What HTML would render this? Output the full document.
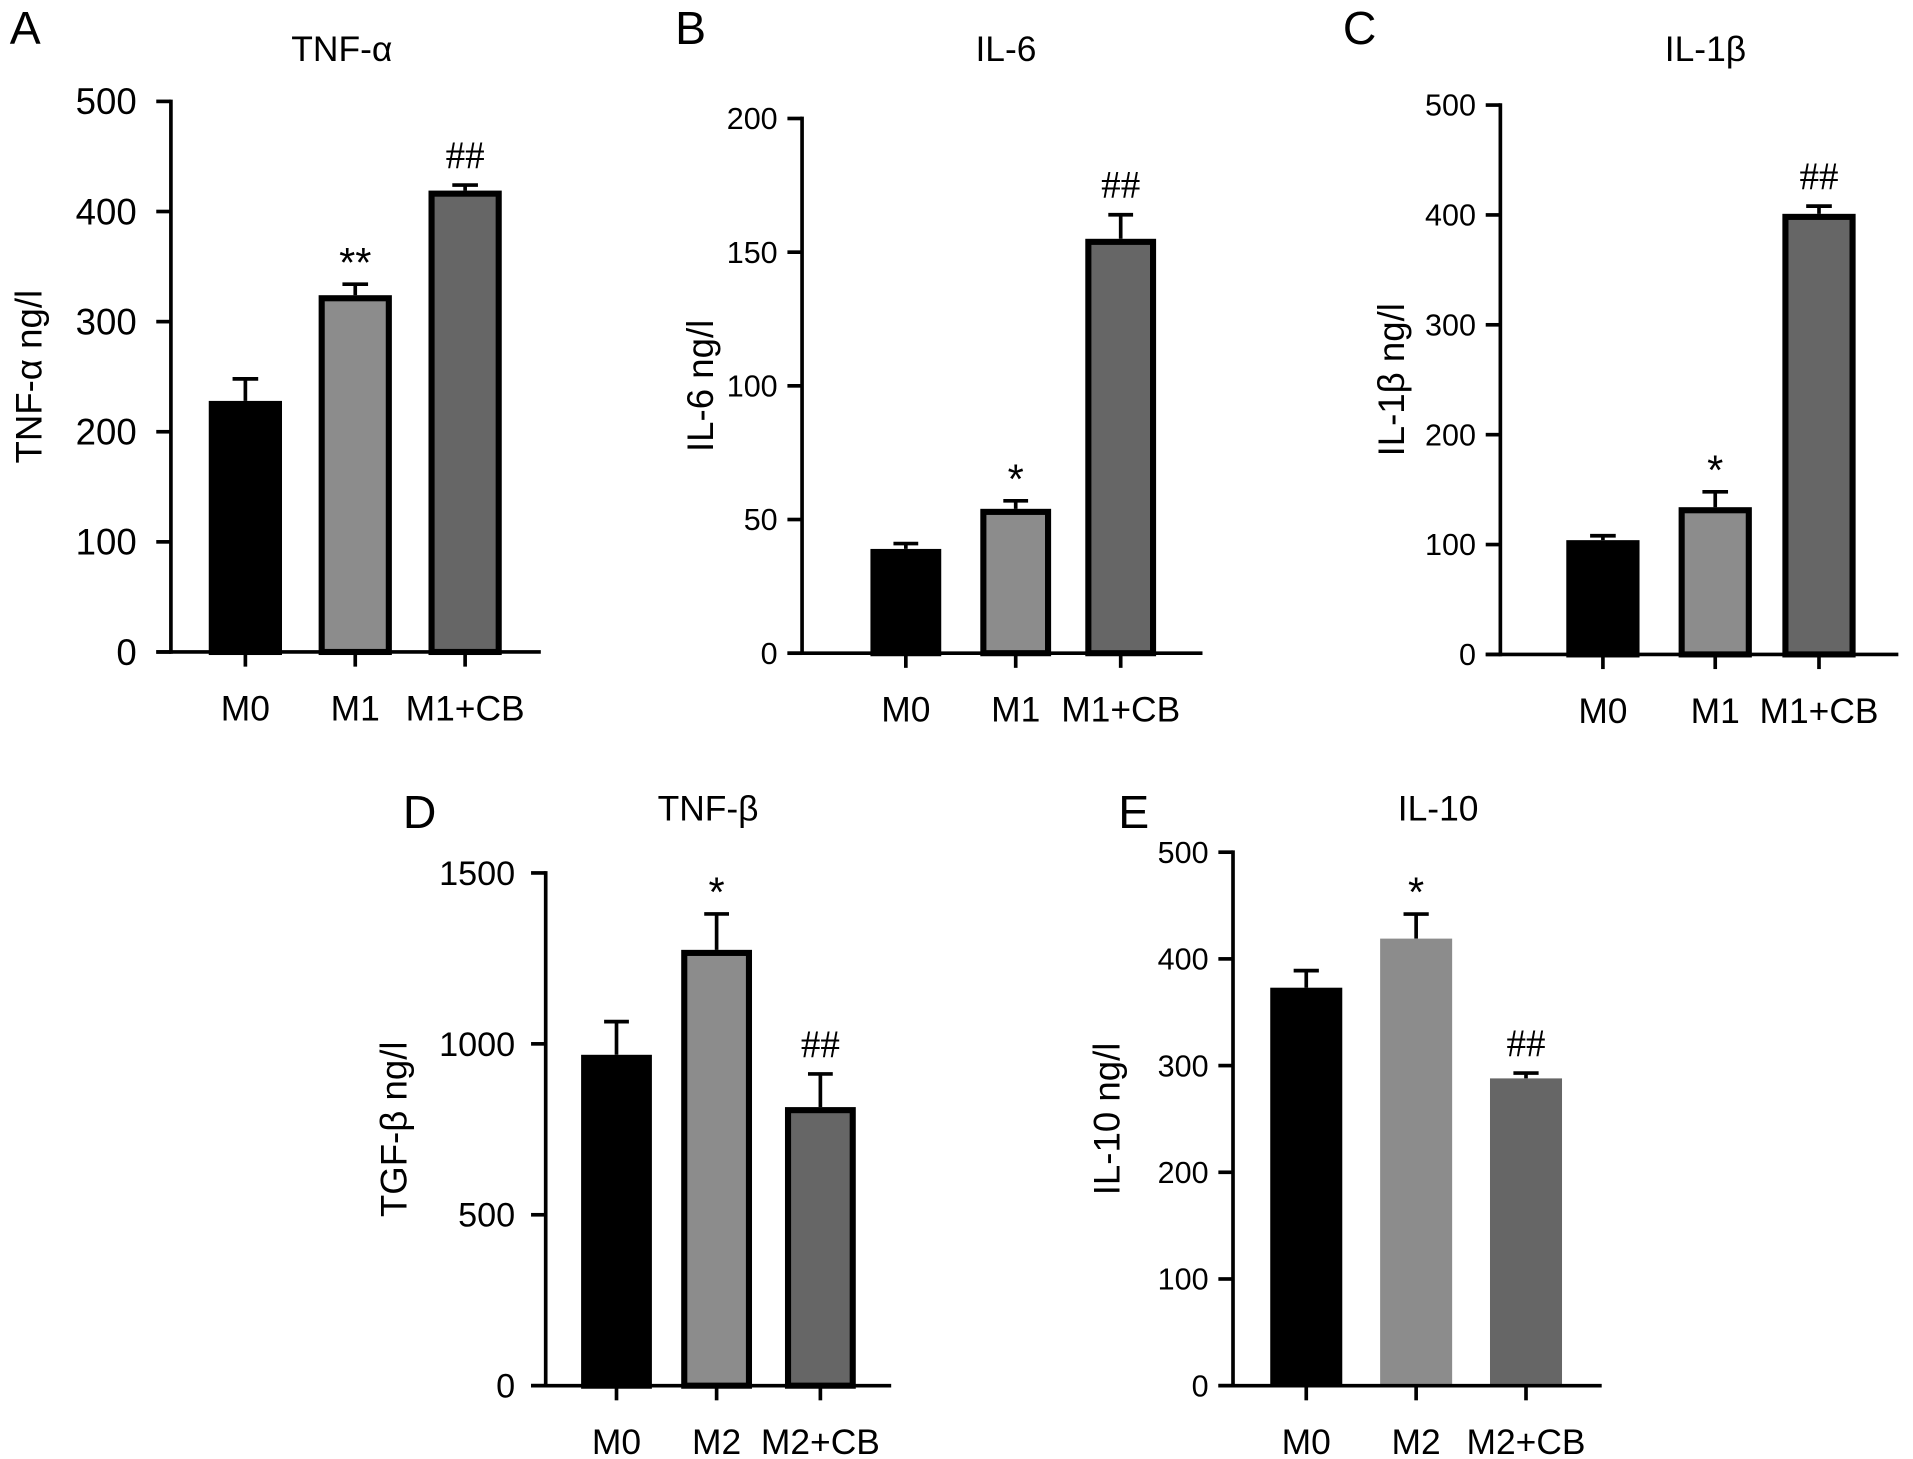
<!DOCTYPE html>
<html><head><meta charset="utf-8"><style>
html,body{margin:0;padding:0;background:#fff;}
svg{display:block;font-family:"Liberation Sans",Arial,sans-serif;}
</style></head><body>
<svg id="fig" width="1913" height="1459" viewBox="0 0 1567 1195" xmlns="http://www.w3.org/2000/svg"></svg>
<script>
const catsA=["M0","M1","M1+CB"], valsA=[228,324,419], errA=[20,10,5], sigA=["","**","##"], ticksA=[0,100,200,300,400,500];
const catsB=["M0","M1","M1+CB"], valsB=[39,54,155], errB=[2,3,9], sigB=["","*","##"], ticksB=[0,50,100,150,200];
const catsC=["M0","M1","M1+CB"], valsC=[104,134,401], errC=[4,14,7], sigC=["","*","##"], ticksC=[0,100,200,300,400,500];
const catsD=["M0","M2","M2+CB"], valsD=[968,1275,815], errD=[97,105,97], sigD=["","*","##"], ticksD=[0,500,1000,1500];
const catsE=["M0","M2","M2+CB"], valsE=[373,419,288], errE=[16,23,5], sigE=["","*","##"], ticksE=[0,100,200,300,400,500];

const NS="http://www.w3.org/2000/svg";
const svg=document.getElementById('fig');
function mk(tag,attrs,parent,text){const e=document.createElementNS(NS,tag);for(const k in attrs)e.setAttribute(k,attrs[k]);if(text!==undefined)e.textContent=text;(parent||svg).appendChild(e);return e;}
const fills=["#000","#8c8c8c","#666"];

function panel(o){
  const g=mk('g',{});
  
  
  const ymax=o.ticks[o.ticks.length-1];
  const y=v=>o.y0-(v/ymax)*(o.y0-o.ytop);
  const L=mk('text',{x:o.letterX,y:o.letterY,'font-size':38},g,o.letter);
  
  
  const T=mk('text',{x:o.titleX,y:o.titleY,'font-size':29,'text-anchor':'middle'},g,o.title);
  
  
  const yl=mk('text',{x:0,y:0,'font-size':30,'text-anchor':'middle',transform:`translate(${o.ylabX},${(o.y0+o.ytop)/2}) rotate(-90)`},g,o.ylab);
  
  
  o.cats.forEach((c,i)=>{
    const cx=o.cx[i], top=y(o.vals[i]), ey=y(o.vals[i]+o.errs[i]);
    const ew=o.bw*0.35;
    const eb=mk('path',{d:`M${cx} ${top}V${ey}M${cx-ew/2} ${ey}H${cx+ew/2}`,stroke:'#000','stroke-width':3,fill:'none'},g);
    
    
    let r;
    if(o.outline){
      r=mk('rect',{x:cx-o.bw/2+2.5,y:top+2.5,width:o.bw-5,height:o.y0-top-2.5,fill:fills[i],stroke:'#000','stroke-width':5},g);
    } else {
      r=mk('rect',{x:cx-o.bw/2,y:top,width:o.bw,height:o.y0-top,fill:fills[i]},g);
    }
    
    
    if(o.sig[i]){
      const hash=o.sig[i].startsWith('#');
      const s=mk('text',{x:cx,y:ey-(hash?14:6),'font-size':hash?32:34,'text-anchor':'middle','font-family':hash?'Liberation Serif, serif':'Liberation Sans, sans-serif'},g,o.sig[i]);
      
      
    }
    const tk=mk('line',{x1:cx,x2:cx,y1:o.y0,y2:o.y0+12,stroke:'#000','stroke-width':3},g);
    
    
    const xl=mk('text',{x:cx,y:o.y0+56,'font-size':29,'text-anchor':'middle'},g,c);
    
    
  });
  o.ticks.forEach(t=>{
    const ln=mk('line',{x1:o.ax-12,x2:o.ax,y1:y(t),y2:y(t),stroke:'#000','stroke-width':3},g);
    
    
    const tl=mk('text',{x:o.ax-o.tgap,y:y(t)+o.tfs*0.35,'font-size':o.tfs,'text-anchor':'end'},g,String(t));
    
    
  });
  const ya=mk('line',{x1:o.ax,x2:o.ax,y1:o.ytop-1.5,y2:o.y0+1.5,stroke:'#000','stroke-width':3},g);
  
  
  const xa=mk('line',{x1:o.ax-12,x2:o.xend,y1:o.y0,y2:o.y0,stroke:'#000','stroke-width':3},g);
  
  
}

panel({id:'a',letter:'A',letterX:8,letterY:36,title:'TNF-α',titleX:280,titleY:50,ylab:'TNF-α ng/l',ylabX:34,tfs:30,tgap:28,
  ax:140,ytop:83,y0:534,xend:443,cx:[201,291,381],bw:60,outline:true,cats:catsA,vals:valsA,errs:errA,sig:sigA,ticks:ticksA});
panel({id:'b',letter:'B',letterX:553,letterY:36,title:'IL-6',titleX:824,titleY:50,ylab:'IL-6 ng/l',ylabX:584,tfs:25,tgap:20,
  ax:657,ytop:97,y0:535,xend:985,cx:[742,832,918],bw:58,outline:true,cats:catsB,vals:valsB,errs:errB,sig:sigB,ticks:ticksB});
panel({id:'c',letter:'C',letterX:1100,letterY:36,title:'IL-1β',titleX:1397,titleY:50,ylab:'IL-1β ng/l',ylabX:1150,tfs:25,tgap:20,
  ax:1229,ytop:86,y0:536,xend:1555,cx:[1313,1405,1490],bw:60,outline:true,cats:catsC,vals:valsC,errs:errC,sig:sigC,ticks:ticksC});
panel({id:'d',letter:'D',letterX:330,letterY:678,title:'TNF-β',titleX:580,titleY:672,ylab:'TGF-β ng/l',ylabX:333,tfs:28,tgap:25,
  ax:447,ytop:715,y0:1135,xend:730,cx:[505,587,672],bw:58,outline:true,cats:catsD,vals:valsD,errs:errD,sig:sigD,ticks:ticksD});
panel({id:'e',letter:'E',letterX:916,letterY:678,title:'IL-10',titleX:1178,titleY:672,ylab:'IL-10 ng/l',ylabX:917,tfs:25,tgap:20,
  ax:1010,ytop:698,y0:1135,xend:1312,cx:[1070,1160,1250],bw:59,outline:false,cats:catsE,vals:valsE,errs:errE,sig:sigE,ticks:ticksE});
</script>
</body></html>
